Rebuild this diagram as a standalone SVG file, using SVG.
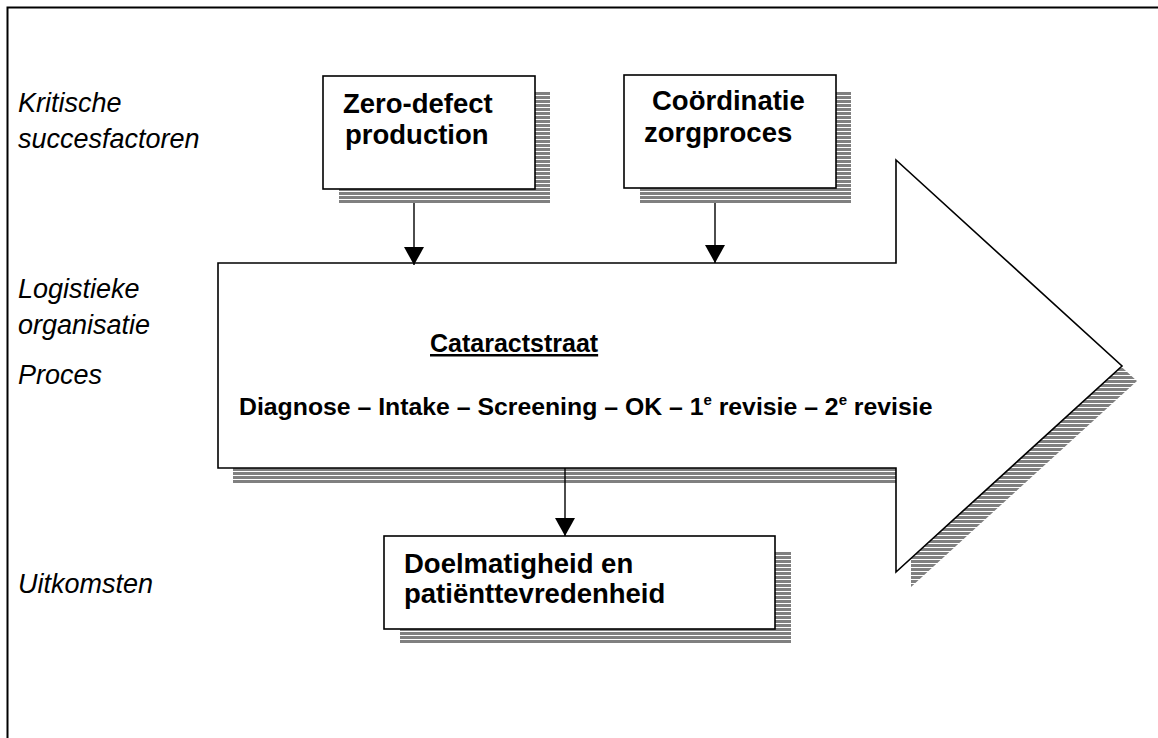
<svg xmlns="http://www.w3.org/2000/svg" width="1158" height="738" viewBox="0 0 1158 738">
  <style>
    .frame { fill: none; stroke: #000; stroke-width: 2; }
    .box { fill: #fff; stroke: #000; stroke-width: 1.6; }
    .shadow { fill: url(#hatch); stroke: none; }
    .lbl { font-family: "Liberation Sans", Arial, sans-serif; font-style: italic; font-size: 27px; fill: #000; }
    .bt { font-family: "Liberation Sans", Arial, sans-serif; font-weight: bold; font-size: 27.5px; fill: #000; }
    .title { font-size: 25px; text-decoration: underline; }
    .steps { font-size: 24.8px; }
    .sup { font-size: 15px; }
    .conn { stroke: #000; stroke-width: 1.4; fill: none; marker-end: url(#head); }
  </style>
  <defs>
    <pattern id="hatch" patternUnits="userSpaceOnUse" width="8" height="4">
      <rect x="0" y="0" width="8" height="3" fill="#808080"/>
      <rect x="0" y="3" width="8" height="1" fill="#ffffff"/>
    </pattern>
    <marker id="head" markerUnits="userSpaceOnUse" markerWidth="20" markerHeight="20" viewBox="0 0 20 20" refX="18" refY="10" orient="auto">
      <path d="M0,0 L18,10 L0,20 Z" fill="#000"/>
    </marker>
  </defs>

  <!-- page frame -->
  <path class="frame" d="M7.5,738 V7.5 H1158"/>

  <!-- row captions -->
  <g id="captions">
    <text class="lbl" x="18" y="112">Kritische</text>
    <text class="lbl" x="18" y="148">succesfactoren</text>
    <text class="lbl" x="18" y="298">Logistieke</text>
    <text class="lbl" x="18" y="334">organisatie</text>
    <text class="lbl" x="18" y="384">Proces</text>
    <text class="lbl" x="18" y="593">Uitkomsten</text>
  </g>

  <!-- process arrow -->
  <g id="cataractstraat">
    <polygon class="shadow" points="233,278 911,278 911,175 1137,381 911,587 911,483 233,483"/>
    <polygon class="box" points="218,263 896,263 896,160 1122,366 896,572 896,468 218,468"/>
    <text class="bt title" x="430" y="352">Cataractstraat</text>
    <text class="bt steps" x="239" y="415">Diagnose – Intake – Screening – OK – 1<tspan class="sup" dy="-10">e</tspan><tspan dy="10"> revisie – 2</tspan><tspan class="sup" dy="-10">e</tspan><tspan dy="10"> revisie</tspan></text>
  </g>

  <!-- success factor: zero-defect -->
  <g id="zero-defect">
    <rect class="shadow" x="339" y="92" width="211" height="111"/>
    <rect class="box" x="323" y="76" width="212" height="113"/>
    <text class="bt" x="343" y="113">Zero-defect</text>
    <text class="bt" x="345" y="144">production</text>
  </g>

  <!-- success factor: coordination -->
  <g id="coordinatie">
    <rect class="shadow" x="640" y="91" width="211" height="112"/>
    <rect class="box" x="624" y="75" width="212" height="113"/>
    <text class="bt" x="652" y="110">Coördinatie</text>
    <text class="bt" x="644" y="142">zorgproces</text>
  </g>

  <!-- outcome -->
  <g id="uitkomsten">
    <rect class="shadow" x="400" y="551" width="391" height="93"/>
    <rect class="box" x="384" y="536" width="391" height="93"/>
    <text class="bt" x="404" y="573">Doelmatigheid en</text>
    <text class="bt" x="404" y="603">patiënttevredenheid</text>
  </g>

  <!-- connectors -->
  <g id="connectors">
    <line class="conn" x1="414" y1="203" x2="414" y2="265"/>
    <line class="conn" x1="715" y1="203" x2="715" y2="263"/>
    <line class="conn" x1="565" y1="468" x2="565" y2="536"/>
  </g>
</svg>
